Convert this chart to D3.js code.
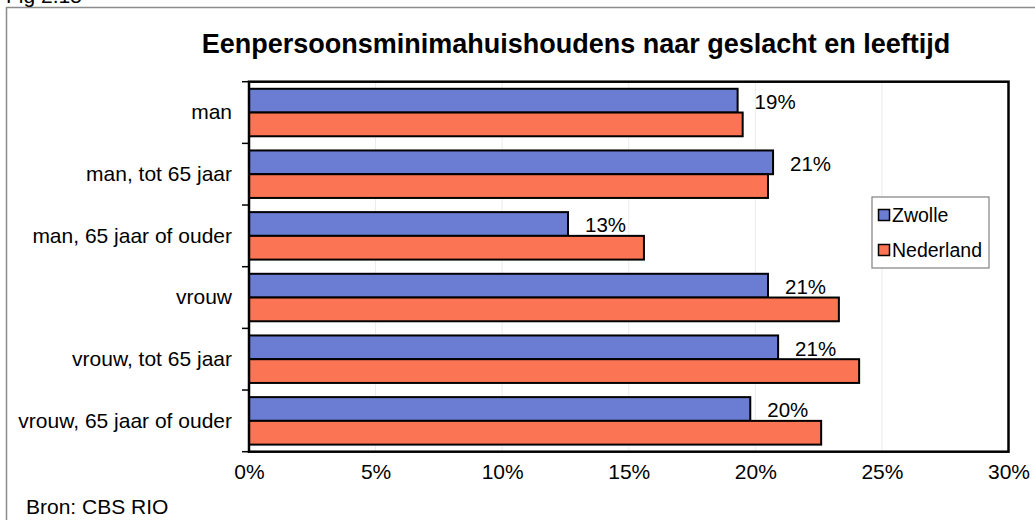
<!DOCTYPE html>
<html>
<head>
<meta charset="utf-8">
<script src="https://cdn.jsdelivr.net/npm/d3@7"></script>
<style>
  body { margin: 0; background: #fff; }
  svg text { font-family: Arial, "Liberation Sans", sans-serif; fill: #000; }
</style>
</head>
<body>
<div id="chart"></div>
<script>
// data (percentages)
var categories = ["man", "man, tot 65 jaar", "man, 65 jaar of ouder", "vrouw", "vrouw, tot 65 jaar", "vrouw, 65 jaar of ouder"];
var seriesNames = ["Zwolle", "Nederland"];
var zwolle = [19.3, 20.7, 12.6, 20.5, 20.9, 19.8];
var nederland = [19.5, 20.5, 15.6, 23.3, 24.1, 22.6];
var xTicks = [0, 5, 10, 15, 20, 25, 30];

var colors = { "Zwolle": "#6a7dd3", "Nederland": "#fb7453" };

var W = 1035, H = 520;
var plot = { left: 249, right: 1008.5, top: 81.7, bottom: 451.7 };

var svg = d3.select("#chart").append("svg")
    .attr("width", W)
    .attr("height", H);

// outer frame (only left + top visible in the picture)
svg.append("rect")
    .attr("x", 6.5).attr("y", 7.5)
    .attr("width", 1100).attr("height", 700)
    .attr("fill", "none")
    .attr("stroke", "#8c8c8c")
    .attr("stroke-width", 1.5);

svg.append("text")
    .attr("x", 6).attr("y", 3)
    .style("font-size", "21px")
    .text("Fig 2.15");

svg.append("text")
    .attr("x", 576).attr("y", 53)
    .attr("text-anchor", "middle")
    .style("font-size", "27px")
    .style("font-weight", "bold")
    .text("Eenpersoonsminimahuishoudens naar geslacht en leeftijd");

var x = d3.scaleLinear()
    .domain([0, 30])
    .range([plot.left, plot.right]);

var y0 = d3.scaleBand()
    .domain(categories)
    .range([plot.top, plot.bottom])
    .paddingInner(0.23)
    .paddingOuter(0.115);

var y1 = d3.scaleBand()
    .domain(seriesNames)
    .range([0, y0.bandwidth()]);

// plot background + gridlines
svg.append("rect")
    .attr("x", plot.left).attr("y", plot.top)
    .attr("width", plot.right - plot.left)
    .attr("height", plot.bottom - plot.top)
    .attr("fill", "#fff");

svg.append("g")
    .selectAll("line")
    .data(xTicks.slice(1, -1))
    .join("line")
    .attr("x1", d => x(d)).attr("x2", d => x(d))
    .attr("y1", plot.top).attr("y2", plot.bottom)
    .attr("stroke", "#ebebeb")
    .attr("stroke-width", 1);

var rows = categories.map(function (c, i) {
    return { cat: c, vals: [{ s: "Zwolle", v: zwolle[i] }, { s: "Nederland", v: nederland[i] }] };
});

var groups = svg.append("g")
    .selectAll("g")
    .data(rows)
    .join("g")
    .attr("transform", d => `translate(0,${y0(d.cat)})`);

groups.selectAll("rect")
    .data(d => d.vals)
    .join("rect")
    .attr("x", x(0))
    .attr("y", d => y1(d.s))
    .attr("width", d => x(d.v) - x(0))
    .attr("height", y1.bandwidth())
    .attr("fill", d => colors[d.s])
    .attr("stroke", "#000")
    .attr("stroke-width", 2);

// value labels for Zwolle
groups.append("text")
    .attr("x", d => x(d.vals[0].v) + 17)
    .attr("y", y1("Zwolle") + y1.bandwidth() / 2 + 1)
    .attr("dominant-baseline", "central")
    .style("font-size", "20.5px")
    .text(d => Math.round(d.vals[0].v) + "%");

// plot border
svg.append("rect")
    .attr("x", plot.left).attr("y", plot.top)
    .attr("width", plot.right - plot.left)
    .attr("height", plot.bottom - plot.top)
    .attr("fill", "none")
    .attr("stroke", "#000")
    .attr("stroke-width", 2.5);

// category axis
var yAxis = d3.axisLeft(y0).tickSize(0).tickPadding(17);
var gy = svg.append("g")
    .attr("transform", `translate(${plot.left},0)`)
    .call(yAxis);
gy.select(".domain").remove();
gy.selectAll("text")
    .style("font-size", "21px")
    .style("font-family", "Arial, 'Liberation Sans', sans-serif");

// category tick marks on band boundaries
var step = y0.step();
svg.append("g")
    .selectAll("line")
    .data(d3.range(categories.length + 1))
    .join("line")
    .attr("x1", plot.left - 7).attr("x2", plot.left)
    .attr("y1", i => plot.top + i * step)
    .attr("y2", i => plot.top + i * step)
    .attr("stroke", "#000")
    .attr("stroke-width", 1.5);

// x axis labels
var xAxis = d3.axisBottom(x)
    .tickValues(xTicks)
    .tickSize(0)
    .tickPadding(12)
    .tickFormat(d => d + "%");
var gx = svg.append("g")
    .attr("transform", `translate(0,${plot.bottom})`)
    .call(xAxis);
gx.select(".domain").remove();
gx.selectAll("text")
    .style("font-size", "21px")
    .style("font-family", "Arial, 'Liberation Sans', sans-serif");

// legend
var legend = svg.append("g").attr("transform", "translate(872,197)");
legend.append("rect")
    .attr("width", 117).attr("height", 71)
    .attr("fill", "#fff")
    .attr("stroke", "#808080")
    .attr("stroke-width", 1.2);
var li = legend.selectAll("g.item")
    .data(seriesNames)
    .join("g")
    .attr("class", "item")
    .attr("transform", (d, i) => `translate(0,${18 + i * 35})`);
li.append("rect")
    .attr("x", 6.5).attr("y", -5.5)
    .attr("width", 11).attr("height", 11)
    .attr("fill", d => colors[d])
    .attr("stroke", "#000")
    .attr("stroke-width", 1.5);
li.append("text")
    .attr("x", 20).attr("y", 0)
    .attr("dominant-baseline", "central")
    .style("font-size", "19.5px")
    .text(d => d);

// source
svg.append("text")
    .attr("x", 26).attr("y", 514)
    .style("font-size", "21px")
    .text("Bron: CBS RIO");
</script>
</body>
</html>
